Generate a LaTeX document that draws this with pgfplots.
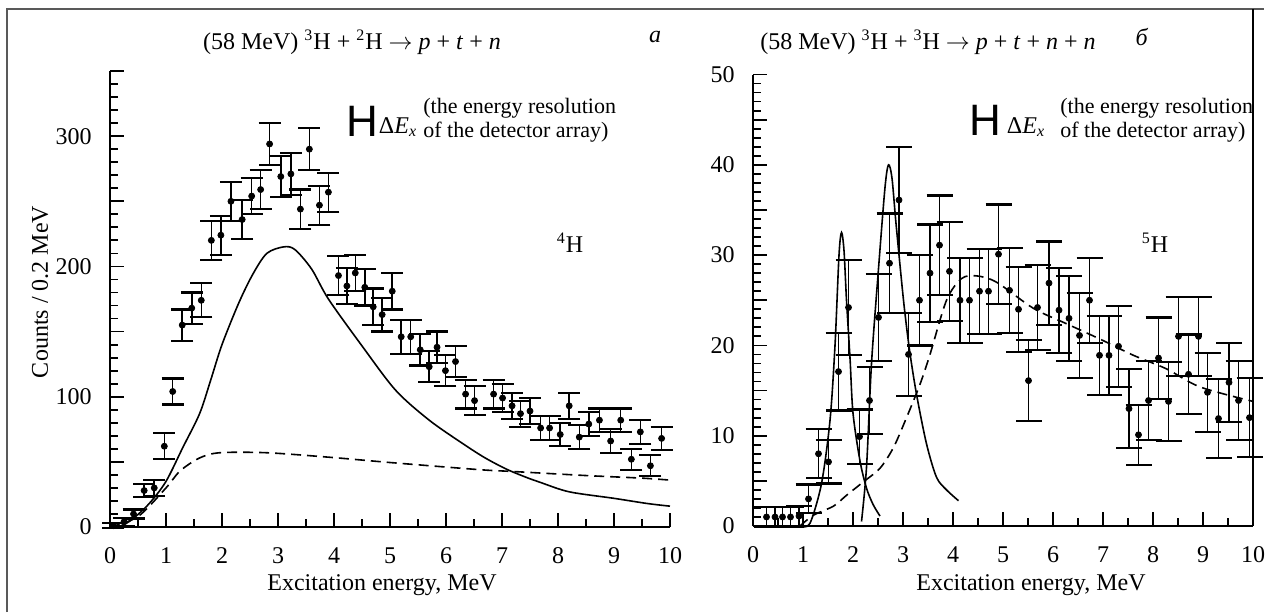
\documentclass[border=0pt]{standalone}
\usepackage{pgfplots}
\pgfplotsset{compat=1.18}
\usepackage{fontspec}
\setmainfont{Liberation Serif}
\newfontfamily\hfont{Liberation Sans}

\pgfplotstableread{
x y e
0.06 1 2
0.25 4 3
0.42 10 3.5
0.61 28 5
0.79 30 6
0.97 62 10
1.12 104 10
1.29 155 12
1.46 168 12
1.63 174 13
1.81 220 15
1.98 224 15
2.16 250 15
2.36 236 15
2.53 254 14
2.69 259 15
2.85 294 16
3.05 269 16
3.23 271 16
3.40 244 15
3.56 290 16
3.74 247 15
3.90 257 15
4.08 193 15
4.23 185 14
4.38 195 14
4.55 184 14
4.70 169 14
4.86 163 13
5.04 181 14
5.20 146 13
5.37 146 13
5.54 136 12
5.70 123 12
5.84 138 12
5.99 120 12
6.17 127 12
6.35 102 11
6.51 97 11
6.85 102 11
7.01 99 11
7.18 93 10
7.33 87 10
7.50 89 10
7.69 76 9
7.85 76 9
8.04 71 9
8.20 93 10
8.38 69 9
8.55 79 9
8.74 82 9
8.94 66 9
9.12 82 9
9.31 52 8
9.47 73 9
9.65 47 8
9.85 68 9
}\leftdata

\pgfplotstableread{
x y e
0.27 1 1.1
0.44 1 1.1
0.59 1 1.1
0.75 1 1.1
0.92 1.1 1.1
1.11 3.0 1.6
1.31 8.0 2.7
1.51 7.1 2.4
1.71 17.1 4.3
1.91 24.2 5.3
2.13 9.9 3.0
2.33 13.9 3.7
2.51 23.1 4.8
2.73 29.1 5.5
2.92 36.1 5.9
3.11 19.0 4.6
3.33 25.0 5.0
3.54 28.0 5.4
3.73 31.1 5.5
3.93 28.2 5.5
4.14 25.0 4.7
4.33 25.0 4.7
4.53 26.0 4.7
4.71 26.0 4.7
4.91 30.1 5.5
5.13 26.1 4.7
5.31 24.0 4.7
5.51 16.1 4.5
5.69 24.2 4.7
5.92 26.9 4.6
6.12 23.9 4.7
6.32 23.0 4.7
6.53 21.1 4.7
6.73 25.0 4.7
6.93 18.9 4.4
7.12 18.9 4.4
7.31 19.9 4.5
7.52 13.0 4.4
7.71 10.1 3.3
7.91 13.9 4.4
8.11 18.6 4.5
8.31 13.8 4.4
8.51 21.0 4.4
8.71 16.8 4.4
8.91 21.0 4.4
9.09 14.8 4.4
9.31 11.9 4.4
9.52 15.9 4.4
9.71 13.9 4.4
9.93 12.0 4.4
}\rightdata

\pgfplotsset{
  common/.style={
    scale only axis,
    xmin=0, xmax=10, ymin=0,
    axis x line*=bottom, axis y line*=left,
    axis line style={line width=1pt},
    xtick={0,...,10}, minor x tick num=1,
    tick align=inside,
    major tick length=7pt, minor tick length=4pt,
    every tick/.style={line width=0.9pt, black},
    tick label style={font=\fontsize{12}{14}\selectfont},
    xticklabel style={yshift=-6pt},
    yticklabel style={xshift=-5pt},
    /pgf/number format/assume math mode=true,
    clip=false,
  },
  dat/.style={only marks, mark=*, black, mark size=1.5pt,
    error bars/.cd, y dir=both, y explicit, error mark=|,
    error bar style={line width=0.75pt, black},
    error mark options={line width=1.1pt, mark size=#1, black}},
  dat/.default=5.5pt,
  sol/.style={black, line width=0.8pt, smooth, tension=0.5},
  das/.style={black, line width=0.8pt, smooth, tension=0.5, dash pattern=on 5pt off 3pt},
}

\begin{document}
\begin{tikzpicture}
\path[use as bounding box] (0,0) rectangle (634pt,306pt);
\fontsize{12}{14}\selectfont
% left panel
\begin{axis}[common, at={(55pt,42.5pt)}, anchor=south west,
  width=280pt, height=228pt, ymax=350,
  ytick={0,50,...,350}, yticklabels={0,,100,,200,,300,},
  minor y tick num=4]
\addplot[dat] table[x=x, y=y, y error=e] {\leftdata};
\addplot[sol] coordinates {(0,0) (0.2,1) (0.4,6) (0.7,18) (1.0,35) (1.3,61) (1.6,87) (1.8,113) (2.0,140) (2.3,172) (2.55,194) (2.8,210) (3.1,215) (3.3,213) (3.6,198) (3.9,175) (4.5,139) (5.1,105) (5.7,82) (6.3,64) (6.7,53) (7.1,44) (7.5,37) (7.7,34) (8.2,27) (9.0,22) (9.6,18) (10,16)};
\addplot[das] coordinates {(0,0) (0.5,8) (1.0,30) (1.25,43) (1.6,53) (1.96,57) (2.8,57) (3.93,53.5) (5,49.5) (6.6,44) (7.2,42.6) (8.5,39.5) (9.5,37.5) (10,36)};
\end{axis}
% right panel
\begin{axis}[common, at={(376.5pt,43pt)}, anchor=south west,
  width=250pt, height=225.75pt, ymax=50,
  ytick={0,5,...,50}, yticklabels={0,,10,,20,,30,,40,,50},
  minor y tick num=4]
\addplot[dat=6.5pt] table[x=x, y=y, y error=e] {\rightdata};
\addplot[sol] coordinates {(0.97,0) (1.14,0.3) (1.37,4.7) (1.54,11.7) (1.64,20) (1.72,30) (1.77,32.5) (1.82,30.5) (1.87,25) (1.94,18.6) (2.0,12.5) (2.14,7.2) (2.27,4.2) (2.4,2.4) (2.54,1.1)};
\addplot[sol] coordinates {(2.17,0.5) (2.27,6.5) (2.37,18) (2.51,28.5) (2.64,37.5) (2.71,40) (2.78,38.5) (2.86,33.5) (3.01,25) (3.13,19.5) (3.27,14.6) (3.47,9.1) (3.67,5.4) (3.87,4.0) (4.11,2.8)};
\addplot[das] coordinates {(0.94,0) (1.21,1.2) (1.61,2.2) (1.87,3.4) (2.21,4.9) (2.54,6.4) (2.81,8.7) (3.07,12.0) (3.34,15.7) (3.54,19.0) (3.87,25.0) (4.17,27.4) (4.47,27.7) (4.87,27) (5.61,24.1) (6.27,22.4) (6.94,20.7) (7.61,18.9) (8.27,17.4) (8.94,15.4) (10,13.8)};
\end{axis}
% frame
\draw[line width=0.9pt, black!65] (3.5pt,0) -- (3.5pt,301.5pt) -- (632pt,301.5pt);
\draw[line width=1pt] (626.5pt,301.5pt) -- (626.5pt,43pt);
% titles
\node at (176pt,285pt) {(58 MeV) \textsuperscript{3}H + \textsuperscript{2}H $\rightarrow$ \textit{p} + \textit{t} + \textit{n}};
\node at (327.5pt,287.5pt) {\textit{a}};
\node at (464pt,285pt) {(58 MeV) \textsuperscript{3}H + \textsuperscript{3}H $\rightarrow$ \textit{p} + \textit{t} + \textit{n} + \textit{n}};
\node at (571pt,287.5pt) {\textit{б}};
% axis labels
\node[rotate=90] at (20pt,160pt) {Counts / 0.2 MeV};
\node at (191pt,13.5pt) {Excitation energy, MeV};
\node at (515.5pt,13.5pt) {Excitation energy, MeV};
% annotations
\node at (181pt,245.5pt) {\hfont\fontsize{22}{22}\selectfont H};
\node at (199pt,242.5pt) {Δ\textit{E}\textsubscript{\textit{x}}};
\node[anchor=west, align=left, inner sep=0pt, font=\fontsize{11}{12}\selectfont] at (211.5pt,246pt) {(the energy resolution\\of the detector array)};
\node at (492.5pt,246pt) {\hfont\fontsize{22}{22}\selectfont H};
\node at (513pt,242.5pt) {Δ\textit{E}\textsubscript{\textit{x}}};
\node[anchor=west, align=left, inner sep=0pt, font=\fontsize{11}{12}\selectfont] at (530pt,246pt) {(the energy resolution\\of the detector array)};
\node at (285pt,184.5pt) {\textsuperscript{4}H};
\node at (577.5pt,184.5pt) {\textsuperscript{5}H};
\end{tikzpicture}
\end{document}
